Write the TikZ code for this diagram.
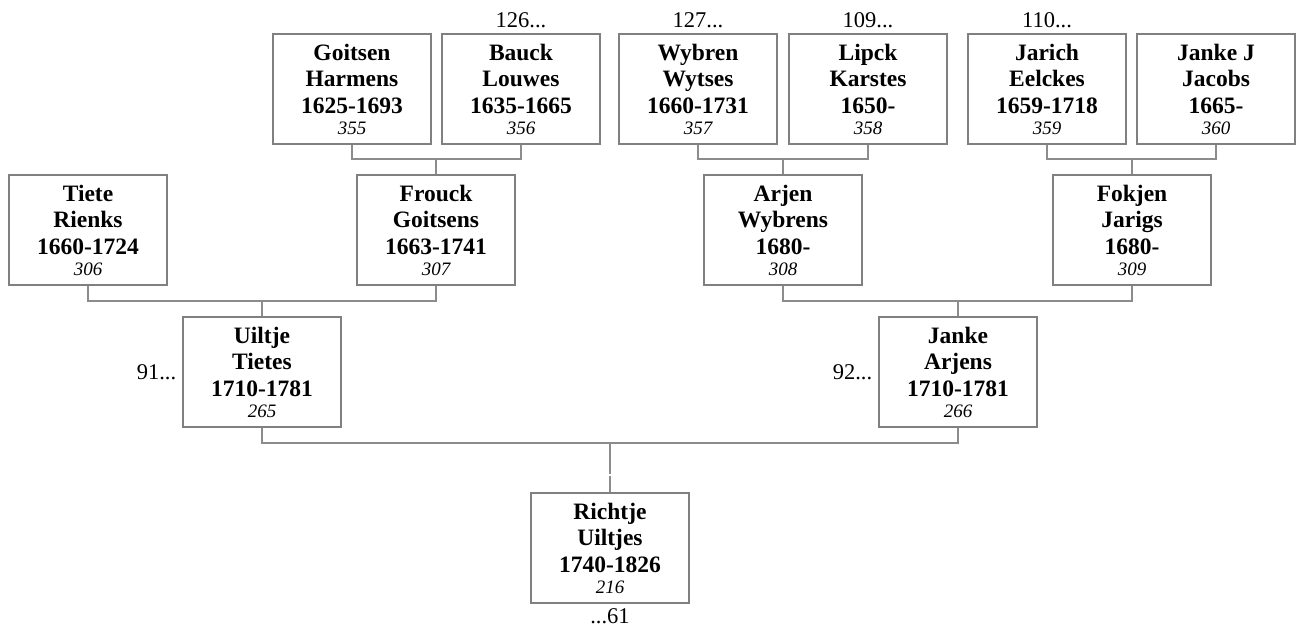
\documentclass[tikz,border=0pt]{standalone}
\usepackage{fontspec}
\setmainfont{Liberation Serif}
\definecolor{boxgray}{RGB}{128,128,128}
\definecolor{linegray}{RGB}{140,140,140}
\begin{document}
\begin{tikzpicture}[x=1pt,y=-1pt,
  pbox/.style={draw=boxgray, line width=1.3pt, fill=white, minimum width=158pt,
    minimum height=110pt, inner sep=0pt, align=center,
    font=\bfseries\fontsize{23.5}{26.5}\selectfont},
  conn/.style={draw=linegray, line width=1.1pt},
  lbl/.style={inner sep=0pt, font=\fontsize{22.5}{25}\selectfont}]
\useasboundingbox (0,0) rectangle (1298,628);
\newcommand{\num}[1]{\\[-5.5pt]{\mdseries\itshape\fontsize{19}{21}\selectfont #1}}
% row 1
\node[pbox] (goitsen) at (352,89) {Goitsen\\Harmens\\1625-1693\num{355}};
\node[pbox] (bauck)   at (521,89) {Bauck\\Louwes\\1635-1665\num{356}};
\node[pbox] (wybren)  at (698,89) {Wybren\\Wytses\\1660-1731\num{357}};
\node[pbox] (lipck)   at (868,89) {Lipck\\Karstes\\1650-\num{358}};
\node[pbox] (jarich)  at (1047,89) {Jarich\\Eelckes\\1659-1718\num{359}};
\node[pbox] (jankej)  at (1216,89) {Janke J\\Jacobs\\1665-\num{360}};
% row 2
\node[pbox] (tiete)  at (88,230) {Tiete\\Rienks\\1660-1724\num{306}};
\node[pbox] (frouck) at (436,230) {Frouck\\Goitsens\\1663-1741\num{307}};
\node[pbox] (arjen)  at (783,230) {Arjen\\Wybrens\\1680-\num{308}};
\node[pbox] (fokjen) at (1132,230) {Fokjen\\Jarigs\\1680-\num{309}};
% row 3
\node[pbox] (uiltje) at (262,372) {Uiltje\\Tietes\\1710-1781\num{265}};
\node[pbox] (jankea) at (958,372) {Janke\\Arjens\\1710-1781\num{266}};
% row 4
\node[pbox] (richtje) at (610,548) {Richtje\\Uiltjes\\1740-1826\num{216}};
% labels
\node[lbl, anchor=south] (l126) at ([yshift=5pt]bauck.north) {126...};
\node[lbl, anchor=south] (l127) at ([yshift=5pt]wybren.north) {127...};
\node[lbl, anchor=south] (l109) at ([yshift=5pt]lipck.north) {109...};
\node[lbl, anchor=south] (l110) at ([yshift=5pt]jarich.north) {110...};
\node[lbl, anchor=east] (l91) at ([xshift=-6pt]uiltje.west) {91...};
\node[lbl, anchor=east] (l92) at ([xshift=-6pt]jankea.west) {92...};
\node[lbl, anchor=north] (l61) at ([yshift=-5pt]richtje.south) {...61};
% connectors
\coordinate (j1) at (frouck.north |- 0,159);
\coordinate (j2) at (arjen.north |- 0,159);
\coordinate (j3) at (fokjen.north |- 0,159);
\coordinate (j4) at (uiltje.north |- 0,301);
\coordinate (j5) at (jankea.north |- 0,301);
\coordinate (j6) at (richtje.north |- 0,443);
\coordinate (g1) at (richtje.north |- 0,474.3);
\coordinate (g2) at (richtje.north |- 0,475.7);
\draw[conn] (goitsen.south) |- (j1) -| (bauck.south);
\draw[conn] (j1) -- (frouck.north);
\draw[conn] (wybren.south) |- (j2) -| (lipck.south);
\draw[conn] (j2) -- (arjen.north);
\draw[conn] (jarich.south) |- (j3) -| (jankej.south);
\draw[conn] (j3) -- (fokjen.north);
\draw[conn] (tiete.south) |- (j4) -| (frouck.south);
\draw[conn] (j4) -- (uiltje.north);
\draw[conn] (arjen.south) |- (j5) -| (fokjen.south);
\draw[conn] (j5) -- (jankea.north);
\draw[conn] (uiltje.south) |- (j6) -| (jankea.south);
\draw[conn] (j6) -- (g1);
\draw[conn] (g2) -- (richtje.north);
\end{tikzpicture}
\end{document}
